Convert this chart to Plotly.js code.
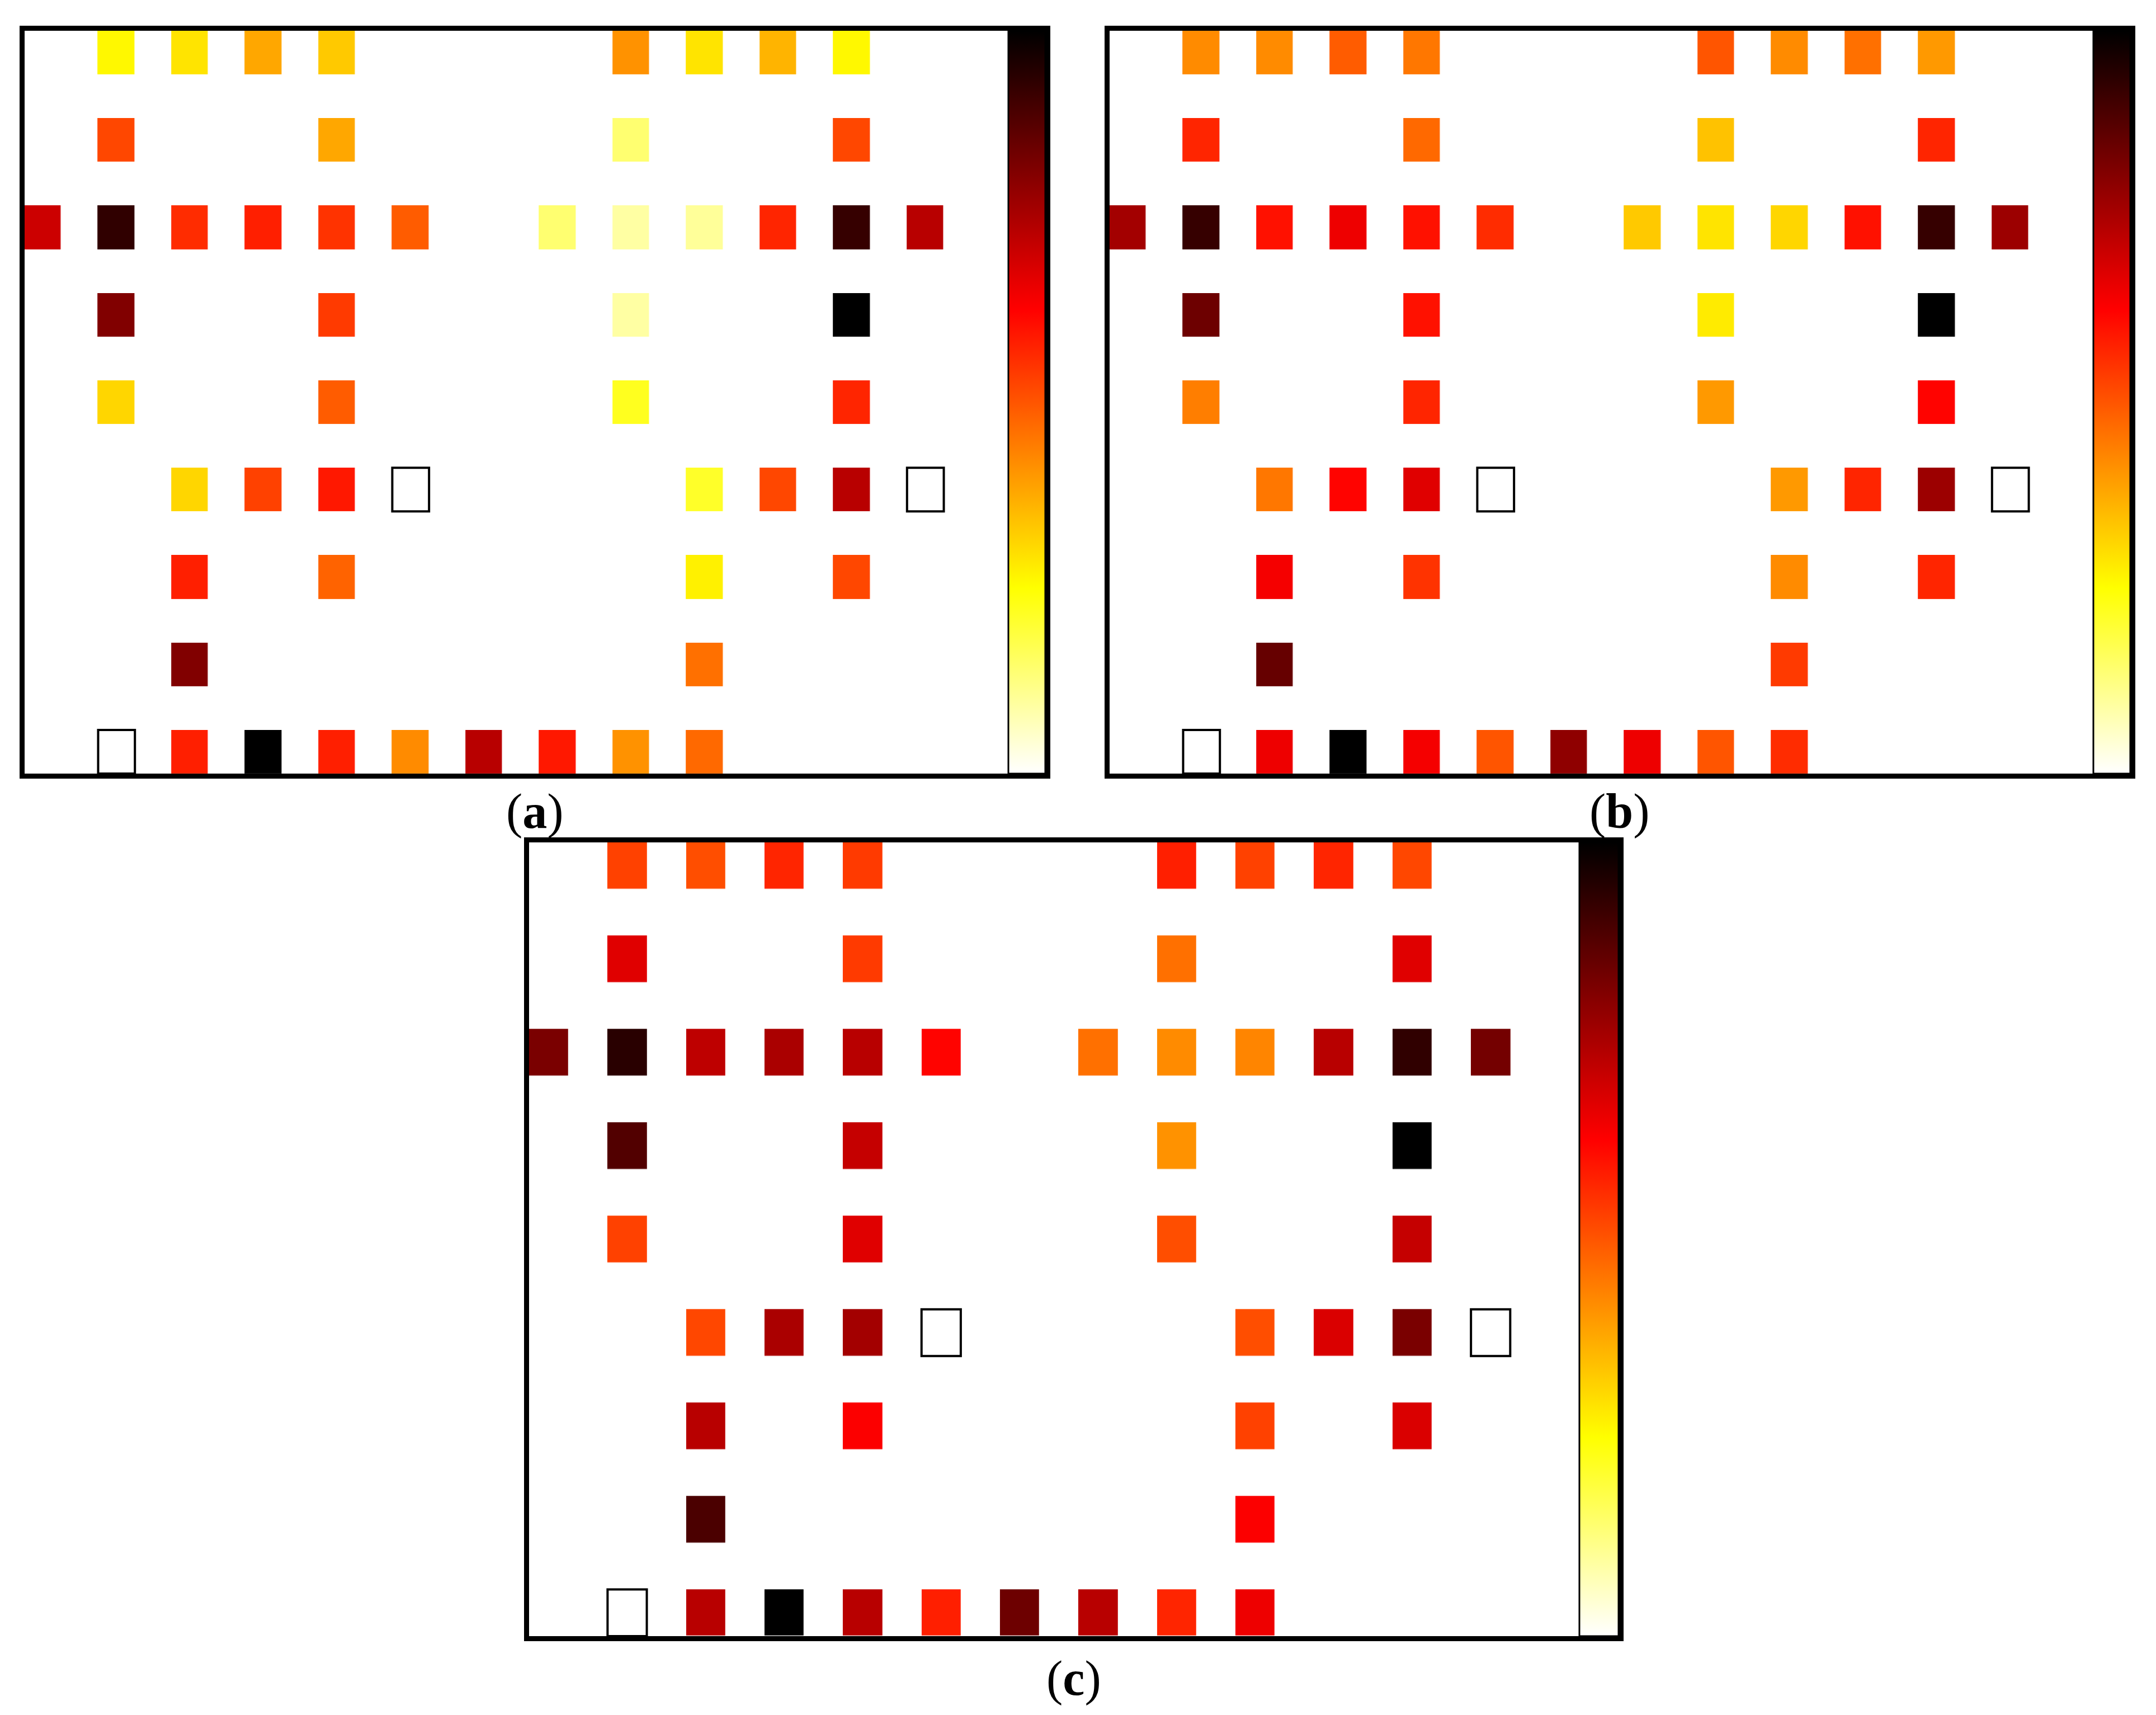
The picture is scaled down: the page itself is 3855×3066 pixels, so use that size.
<!DOCTYPE html>
<html>
<head>
<meta charset="utf-8">
<script src="https://cdn.plot.ly/plotly-3.0.1.min.js"></script>
<style>
  body { margin: 0; background: #fff; }
  #graph { width: 3855px; height: 3066px; }
</style>
</head>
<body>
<div id="graph"></div>
<script>
var n = null;
var cols = [0,1,2,3,4,5,6,7,8,9,10,11,12];
var rows = [0,1,2,3,4,5,6,7,8];

// (a)
var zA = [
  [n, .26, .29, .38, .33, n, n, n, .41, .29, .36, .26, n],
  [n, .52, n, n, .38, n, n, n, .14, n, n, .52, n],
  [.70, .93, .56, .58, .55, .49, n, .14, .09, .10, .57, .92, .73],
  [n, .81, n, n, .54, n, n, n, .09, n, n, 1.0, n],
  [n, .31, n, n, .49, n, n, n, .22, n, n, .57, n],
  [n, n, .31, .53, .59, n, n, n, n, .21, .52, .73, n],
  [n, n, .58, n, .48, n, n, n, n, .27, n, .52, n],
  [n, n, .81, n, n, n, n, n, n, .46, n, n, n],
  [n, n, .58, 1.0, .58, .42, .73, .59, .41, .47, n, n, n]
];
// (b)
var zB = [
  [n, .42, .42, .49, .45, n, n, n, .50, .42, .46, .40, n],
  [n, .57, n, n, .47, n, n, n, .34, n, n, .57, n],
  [.76, .92, .60, .65, .60, .56, n, .33, .29, .31, .60, .92, .77],
  [n, .84, n, n, .60, n, n, n, .28, n, n, 1.0, n],
  [n, .44, n, n, .57, n, n, n, .40, n, n, .62, n],
  [n, n, .45, .62, .67, n, n, n, n, .40, .57, .77, n],
  [n, n, .64, n, .55, n, n, n, n, .42, n, .57, n],
  [n, n, .85, n, n, n, n, n, n, .54, n, n, n],
  [n, n, .65, 1.0, .64, .50, .79, .65, .50, .56, n, n, n]
];
// (c)
var zC = [
  [n, .53, .51, .57, .54, n, n, n, .58, .53, .57, .52, n],
  [n, .67, n, n, .54, n, n, n, .46, n, n, .67, n],
  [.82, .94, .72, .75, .73, .62, n, .46, .42, .43, .73, .93, .83],
  [n, .88, n, n, .71, n, n, n, .41, n, n, 1.0, n],
  [n, .53, n, n, .67, n, n, n, .51, n, n, .71, n],
  [n, n, .52, .75, .76, n, n, n, n, .51, .68, .82, n],
  [n, n, .73, n, .63, n, n, n, n, .53, n, .68, n],
  [n, n, .89, n, n, n, n, n, n, .63, n, n, n],
  [n, n, .73, 1.0, .73, .58, .84, .73, .57, .65, n, n, n]
];

// empty (outlined) cells, same in all three maps
var refRows = [5, 5, 8];
var refCols = [5, 12, 1];

var labels = ['a', 'b', 'c'];

// flipped "hot" map: white -> yellow -> red -> black
var hot = [[0, 'rgb(255,255,255)'], [0.25, 'rgb(255,255,0)'], [0.625, 'rgb(255,0,0)'], [1, 'rgb(0,0,0)']];

var W = 3855, H = 3066;
function px(x) { return x / W; }
function py(y) { return (H - y) / H; }

var xMin = -0.25, xMax = 13.63;
var yMin = -0.25, yMax = 8.25;

// inner frame boxes in pixels: left, right, top, bottom, colorbar width
var boxes = [
  [44, 1869, 55, 1383, 66],
  [1984, 3809, 55, 1383, 66],
  [946, 2894, 1506, 2925, 70]
];
var labelPos = [[956, 1450], [2896, 1450], [1920, 3000]];
var zs = [zA, zB, zC];

var data = [];
var layout = {
  width: W, height: H,
  margin: {l: 0, r: 0, t: 0, b: 0},
  paper_bgcolor: 'white', plot_bgcolor: 'white',
  showlegend: false,
  shapes: [], annotations: []
};

for (var i = 0; i < 3; i++) {
  var s = i === 0 ? '' : String(i + 1);
  var b = boxes[i];
  var pitchX = (b[1] - b[0]) / (xMax - xMin);
  var pitchY = (b[3] - b[2]) / (yMax - yMin);

  data.push({
    type: 'heatmap',
    z: zs[i], x: cols, y: rows,
    xaxis: 'x' + s, yaxis: 'y' + s,
    colorscale: hot, zmin: 0, zmax: 1,
    xgap: pitchX / 2, ygap: pitchY / 2,
    hoverinfo: 'skip',
    colorbar: {
      x: px(b[1] - b[4]), xanchor: 'left', xpad: 0,
      y: py(b[2]), yanchor: 'top', ypad: 0,
      len: (b[3] - b[2]) / H, lenmode: 'fraction',
      thickness: b[4], thicknessmode: 'pixels',
      outlinewidth: 3, outlinecolor: 'black', borderwidth: 0,
      showticklabels: false, ticks: ''
    }
  });

  var ax = {
    showline: true, mirror: true, linewidth: 9, linecolor: 'black',
    showgrid: false, zeroline: false, showticklabels: false, ticks: ''
  };
  layout['xaxis' + s] = Object.assign({}, ax, {
    domain: [px(b[0]), px(b[1])], range: [xMin, xMax], anchor: 'y' + s
  });
  layout['yaxis' + s] = Object.assign({}, ax, {
    domain: [py(b[3]), py(b[2])], range: [yMax, yMin], anchor: 'x' + s
  });

  for (var k = 0; k < refRows.length; k++) {
    layout.shapes.push({
      type: 'rect', xref: 'x' + s, yref: 'y' + s,
      x0: refCols[k] - 0.25, x1: refCols[k] + 0.25,
      y0: refRows[k] - 0.25, y1: refRows[k] + 0.25,
      fillcolor: 'white', line: {color: 'black', width: 4}
    });
  }

  layout.annotations.push({
    xref: 'paper', yref: 'paper',
    x: px(labelPos[i][0]), y: py(labelPos[i][1]),
    xanchor: 'center', yanchor: 'middle', showarrow: false,
    text: '(<b>' + labels[i] + '</b>)',
    font: {family: 'Liberation Serif', size: 88, color: 'black'}
  });
}

Plotly.newPlot('graph', data, layout, {displayModeBar: false, staticPlot: true});
</script>
</body>
</html>
